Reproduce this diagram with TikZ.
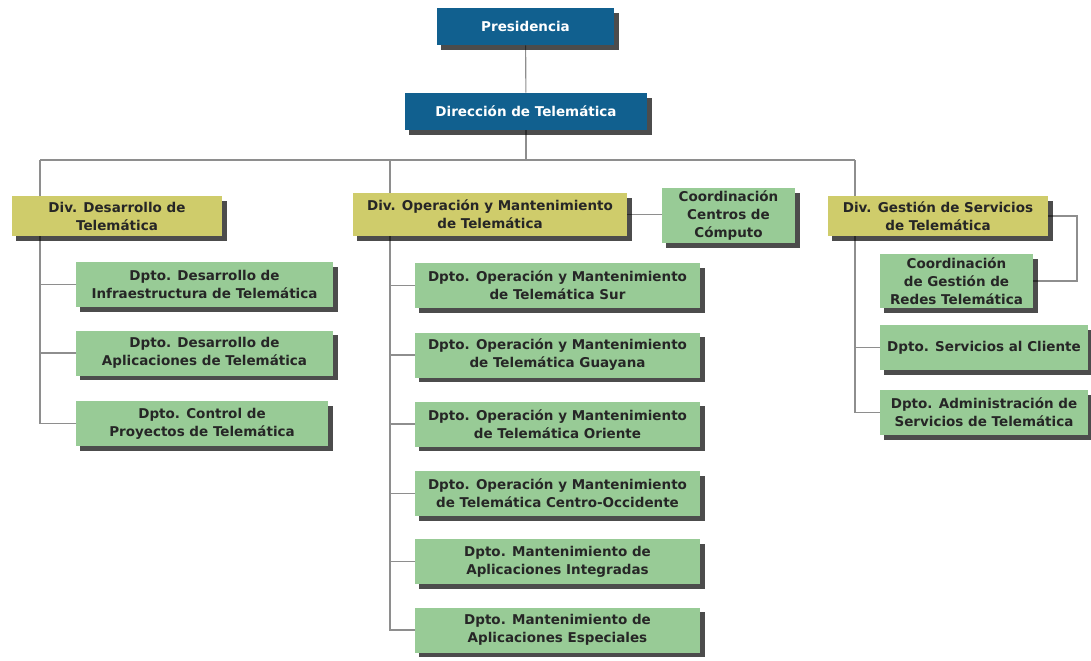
\documentclass[tikz,border=0pt]{standalone}
\usepackage{fontspec}
\setmainfont{DejaVu Sans}
\usetikzlibrary{shadows,backgrounds}

\definecolor{presblue}{HTML}{11608F}
\definecolor{divyellow}{HTML}{CFCC6B}
\definecolor{dptogreen}{HTML}{98CB96}
\definecolor{linegray}{HTML}{8E8E8E}

\tikzset{
	box/.style={align=center, inner sep=1pt,
		font=\fontsize{9.6}{12.8}\selectfont\bfseries,
		drop shadow={shadow xshift=3.2pt, shadow yshift=-3.2pt, opacity=.7, fill=black}},
	topbox/.style={box, fill=presblue, text=white, minimum height=0.925cm},
	divbox/.style={box, fill=divyellow, text=black!85, minimum height=1cm},
	dptobox/.style={box, fill=dptogreen, text=black!85, minimum height=1.125cm},
	link/.style={draw=linegray, line width=0.8pt}
}

\begin{document}
\begin{tikzpicture}[x=0.025cm, y=-0.025cm]
	
	\useasboundingbox (0,0) rectangle (1091,660);
	
	% Top of the chart
	\node[topbox, minimum width=4.425cm] (pres) at (525.5,26.5) {Presidencia};
	\node[topbox, minimum width=6.05cm] (dir) at (526,111.5) {Dirección de Telemática};
	
	% Bus points
	\coordinate (busL) at (40,160);
	\coordinate (busM) at (390,160);
	\coordinate (busR) at (855,160);
	
	% Left division
	\node[divbox, minimum width=5.25cm] (divds) at (117,216) {Div. Desarrollo de\\Telemática};
	\node[dptobox, minimum width=6.425cm] (d1) at (204.5,284.5) {Dpto. Desarrollo de\\Infraestructura de Telemática};
	\node[dptobox, minimum width=6.425cm] (d2) at (204.5,353) {Dpto. Desarrollo de\\Aplicaciones de Telemática};
	\node[dptobox, minimum width=6.3cm] (d3) at (202,423.5) {Dpto. Control de\\Proyectos de Telemática};
	
	% Middle division
	\node[divbox, minimum width=6.85cm, minimum height=1.075cm] (divop) at (490,214.5) {Div. Operación y Mantenimiento\\de Telemática};
	\node[dptobox, minimum width=3.325cm, minimum height=1.375cm] (cc) at (728.5,215.5) {Coordinación\\Centros de\\Cómputo};
	\node[dptobox, minimum width=7.125cm] (m1) at (557.5,285.5) {Dpto. Operación y Mantenimiento\\de Telemática Sur};
	\node[dptobox, minimum width=7.125cm] (m2) at (557.5,355) {Dpto. Operación y Mantenimiento\\de Telemática Guayana};
	\node[dptobox, minimum width=7.125cm] (m3) at (557.5,424) {Dpto. Operación y Mantenimiento\\de Telemática Oriente};
	\node[dptobox, minimum width=7.125cm] (m4) at (557.5,493.5) {Dpto. Operación y Mantenimiento\\de Telemática Centro-Occidente};
	\node[dptobox, minimum width=7.125cm] (m5) at (557.5,561.5) {Dpto. Mantenimiento de\\Aplicaciones Integradas};
	\node[dptobox, minimum width=7.125cm] (m6) at (557.5,630) {Dpto. Mantenimiento de\\Aplicaciones Especiales};
	
	% Right division
	\node[divbox, minimum width=5.5cm] (divgs) at (938,216) {Div. Gestión de Servicios\\de Telemática};
	\node[dptobox, minimum width=3.825cm, minimum height=1.35cm] (cr) at (956.5,281) {Coordinación\\de Gestión de\\Redes Telemática};
	\node[dptobox, minimum width=5.2cm] (r2) at (984,347.5) {Dpto. Servicios al Cliente};
	\node[dptobox, minimum width=5.2cm] (r3) at (984,412.5) {Dpto. Administración de\\Servicios de Telemática};
	\coordinate (elbow) at (1077,216);
	
	% Connectors behind the boxes
	\begin{scope}[on background layer]
		\draw[link] (pres) -- (dir);
		\draw[link] (dir.south) -- (dir.south |- busL);
		\draw[link] (busL) -- (busR);
		\foreach \n in {d1, d2, d3}
			\draw[link] (busL) |- (\n.west);
		\foreach \n in {m1, m2, m3, m4, m5, m6}
			\draw[link] (busM) |- (\n.west);
		\foreach \n in {r2, r3}
			\draw[link] (busR) |- (\n.west);
		\draw[link] (divop.east) -- (divop.east -| cc.west);
		\draw[link] (divgs.east) -- (elbow) |- (cr.east);
	\end{scope}
	
\end{tikzpicture}
\end{document}
